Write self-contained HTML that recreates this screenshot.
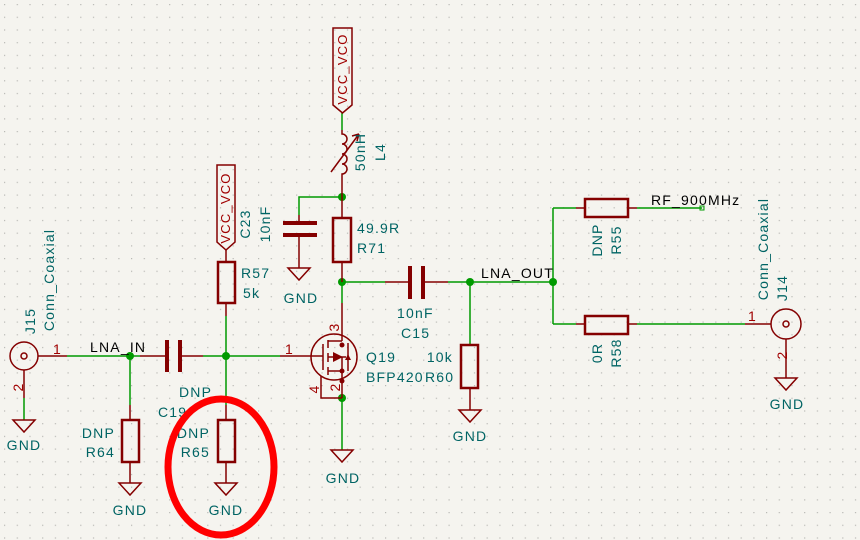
<!DOCTYPE html>
<html><head><meta charset="utf-8"><style>
html,body{margin:0;padding:0;background:#f5f4ef;}
svg{display:block;}
text{font-family:"Liberation Sans",sans-serif;font-size:14px;letter-spacing:1.2px;}
.t{fill:#006464;}
.k{fill:#000;}
.r{fill:#a00000;}
</style></head><body>
<svg width="860" height="540" viewBox="0 0 860 540" xmlns="http://www.w3.org/2000/svg">
<defs><pattern id="g" x="4" y="4" width="12.7" height="12.7" patternUnits="userSpaceOnUse"><rect x="0" y="0" width="1.2" height="1.2" fill="#b8b8b4"/></pattern></defs>
<rect width="860" height="540" fill="#f5f4ef"/>
<rect width="860" height="540" fill="url(#g)"/>

<g stroke="#009a00" stroke-width="1.5" fill="none">
<path d="M67 356H140 M203 356H280 M130 356V405 M226 316V405"/>
<path d="M24 398V420"/>
<path d="M342 113V130 M342 197H299V215 M342 282V303 M342 282H385 M448 282H553 M470 282V345 M342 398V450"/>
<path d="M553 208V324 M553 208H576 M637 208H702 M553 324H576 M637 324H745"/>
</g>
<g fill="#009a00">
<circle cx="130" cy="356" r="4"/><circle cx="226" cy="356" r="4"/>
<circle cx="342" cy="197" r="4"/><circle cx="342" cy="282" r="4"/>
<circle cx="470" cy="282" r="4"/><circle cx="553" cy="282" r="4"/>
<circle cx="342" cy="398" r="4"/>
</g>
<rect x="700" y="206" width="4" height="4" fill="none" stroke="#009a00" stroke-width="1"/>

<g stroke="#840000" stroke-width="1.5" fill="none">
<circle cx="24" cy="356" r="14"/><circle cx="24" cy="356" r="3"/>
<path d="M38 356H67 M24 370V398"/>
<path d="M13 420H35L24 432Z"/>
<path d="M140 356H165 M180 356H203"/>
<path d="M130 405V420 M130 462V483 M119 483H141L130 495Z"/>
<path d="M226 250V262 M226 303V316"/>
<path d="M217 165H235V242L226 250L217 242Z"/>
<path d="M226 405V420 M226 462V483 M215 483H237L226 495Z"/>
<path d="M333 28H352V105L342.5 113L333 105Z"/>
<path d="M342 130V134 A5 5 0 0 1 342 144 A5 5 0 0 1 342 154 A5 5 0 0 1 342 164 A5 5 0 0 1 342 174 V197"/>
<path d="M331 172L359 134 M359 134L352 136 M359 134L357 141"/>
<path d="M299 215V223 M299 235V268 M288 268H310L299 280Z"/>
<path d="M342 197V218 M342 262V282"/>
<path d="M385 282H409 M423 282H448"/>
<path d="M470 388V410 M459 410H481L470 422Z"/>
<circle cx="334" cy="357" r="23"/>
<path d="M342 303V341 M280 356H323 M323 344V370 M328 340V348 M328 353V362 M328 367V375 M328 341H342 M328 371H342 M328 357H342V381 M342 381V398 M321 376V398H342 M348 343V371 M346 357H342"/>
<path d="M342 450H353L342 462L331 450Z"/>
<path d="M576 208H585 M628 208H637 M576 324H585 M628 324H637"/>
<path d="M745 324H771"/>
<circle cx="786" cy="324" r="15"/><circle cx="786" cy="324" r="3"/>
<path d="M786 339V378 M775 378H797L786 390Z"/>
</g>
<path d="M343 357L333 352V362Z M345 360H351L348 354Z" fill="#840000"/>
<g fill="#840000"><circle cx="342" cy="345" r="2.5"/><circle cx="342" cy="371" r="2.5"/><circle cx="342" cy="381" r="2.5"/></g>

<g stroke="#840000" stroke-width="4" fill="none">
<path d="M167 340V372 M180 340V372"/>
<path d="M283 223H317 M283 235H317"/>
<path d="M410 266V299 M423 266V299"/>
</g>
<g stroke="#840000" stroke-width="2.5" fill="none">
<rect x="122" y="420" width="17" height="42"/>
<rect x="218" y="262" width="17" height="41"/>
<rect x="218" y="420" width="17" height="42"/>
<rect x="333" y="218" width="18" height="44"/>
<rect x="461" y="345" width="17" height="43"/>
<rect x="585" y="199" width="43" height="18"/>
<rect x="585" y="316" width="43" height="18"/>
</g>

<text class="r" x="53" y="354">1</text>
<text class="r" x="285" y="354">1</text>
<text class="r" x="748" y="321">1</text>
<text class="r" transform="rotate(-90 19 387)" x="19" y="391" text-anchor="middle">2</text>
<text class="r" transform="rotate(-90 783 355)" x="783" y="359" text-anchor="middle">2</text>
<text class="r" transform="rotate(-90 335 327)" x="335" y="331" text-anchor="middle">3</text>
<text class="r" transform="rotate(-90 336 387)" x="336" y="391" text-anchor="middle">2</text>
<text class="r" transform="rotate(-90 315 389)" x="315" y="393" text-anchor="middle">4</text>

<text class="k" x="90" y="352">LNA_IN</text>
<text class="k" x="481" y="278">LNA_OUT</text>
<text class="k" x="651" y="205">RF_900MHz</text>
<text class="r" transform="rotate(-90 226 208)" x="226" y="212" text-anchor="middle" style="font-size:13px">VCC_VCO</text>
<text class="r" transform="rotate(-90 343 69)" x="343" y="73" text-anchor="middle" style="font-size:13px">VCC_VCO</text>

<g class="t">
<text x="24" y="450" text-anchor="middle">GND</text>
<text x="130" y="515" text-anchor="middle">GND</text>
<text x="226" y="515" text-anchor="middle">GND</text>
<text x="301" y="303" text-anchor="middle">GND</text>
<text x="343" y="483" text-anchor="middle">GND</text>
<text x="470" y="441" text-anchor="middle">GND</text>
<text x="787" y="409" text-anchor="middle">GND</text>
<text x="115" y="438" text-anchor="end">DNP</text>
<text x="115" y="457" text-anchor="end">R64</text>
<text x="210" y="438" text-anchor="end">DNP</text>
<text x="210" y="457" text-anchor="end">R65</text>
<text x="179" y="397">DNP</text>
<text x="158" y="417">C19</text>
<text x="241" y="278">R57</text>
<text x="243" y="298">5k</text>
<text x="357" y="233">49.9R</text>
<text x="357" y="253">R71</text>
<text x="397" y="318">10nF</text>
<text x="401" y="338">C15</text>
<text x="453" y="362" text-anchor="end">10k</text>
<text x="425" y="382">R60</text>
<text x="366" y="362">Q19</text>
<text x="366" y="382">BFP420</text>
<text transform="rotate(-90 31 321)" x="31" y="325" text-anchor="middle">J15</text>
<text transform="rotate(-90 49 280)" x="49" y="285" text-anchor="middle">Conn_Coaxial</text>
<text transform="rotate(-90 245 224)" x="245" y="229" text-anchor="middle">C23</text>
<text transform="rotate(-90 265 224)" x="265" y="229" text-anchor="middle">10nF</text>
<text transform="rotate(-90 360 152)" x="360" y="157" text-anchor="middle">50nH</text>
<text transform="rotate(-90 380 152)" x="380" y="157" text-anchor="middle">L4</text>
<text transform="rotate(-90 597 240)" x="597" y="245" text-anchor="middle">DNP</text>
<text transform="rotate(-90 616 240)" x="616" y="245" text-anchor="middle">R55</text>
<text transform="rotate(-90 597 353)" x="597" y="358" text-anchor="middle">0R</text>
<text transform="rotate(-90 616 353)" x="616" y="358" text-anchor="middle">R58</text>
<text transform="rotate(-90 763 249)" x="763" y="254" text-anchor="middle">Conn_Coaxial</text>
<text transform="rotate(-90 782 288)" x="782" y="293" text-anchor="middle">J14</text>
</g>

<ellipse cx="221" cy="467" rx="53" ry="68" fill="none" stroke="#ff0000" stroke-width="7"/>
</svg>
</body></html>
